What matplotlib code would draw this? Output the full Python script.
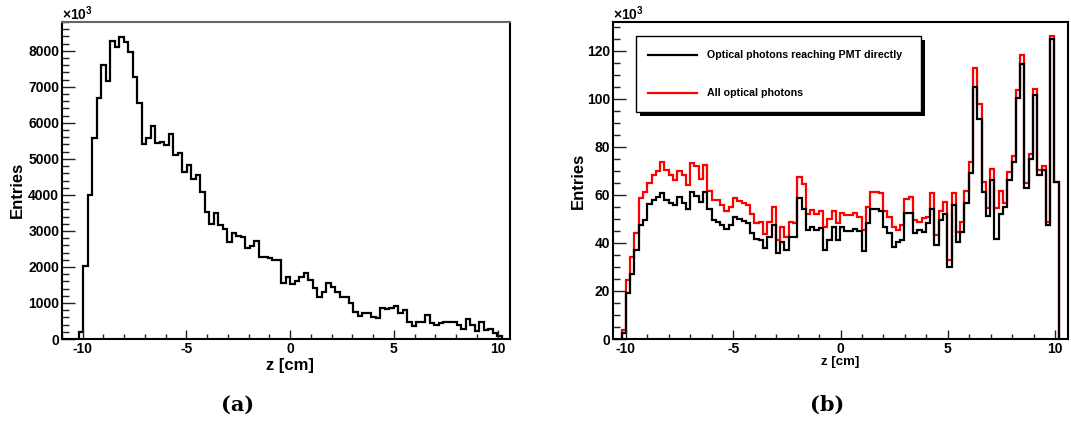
import numpy as np
import matplotlib
matplotlib.use('Agg')
import matplotlib.pyplot as plt
from matplotlib.patches import Rectangle
from matplotlib.ticker import MultipleLocator

plt.rcParams['font.family'] = ['Liberation Sans', 'DejaVu Sans']
plt.rcParams['font.weight'] = 'bold'
plt.rcParams['mathtext.fontset'] = 'custom'
plt.rcParams['mathtext.rm'] = 'Liberation Sans:bold'
plt.rcParams['mathtext.default'] = 'rm'
plt.rcParams['axes.unicode_minus'] = False

# (a) entries per z bin (axis labelled x10^3)
entries_a = [200, 2030, 4010, 5570, 6680, 7600, 7170, 8280, 8110, 8390, 8250, 7970,
             7260, 6540, 5400, 5570, 5910, 5430, 5475, 5380, 5690, 5105, 5170, 4640,
             4830, 4430, 4550, 4090, 3530, 3190, 3490, 3160, 3040, 2680, 2950, 2860,
             2820, 2515, 2590, 2730, 2265, 2285, 2240, 2190, 2190,
             1545, 1730, 1526, 1619, 1730, 1841, 1637, 1406, 1175, 1313, 1545, 1452,
             1313, 1175, 1175, 1008, 758, 638, 730, 730, 620, 573, 851, 823, 851, 925,
             730, 805, 481, 361, 481, 481, 666, 435, 389, 435, 463, 463, 463, 389, 268,
             546, 389, 231, 463, 250, 278, 176, 83]
z_range_a = (-10.2, 10.2)

# (b) entries per z bin, x10^3
all_b = [3.75, 24.6, 34.3, 44, 58.6, 61.4, 64.9, 68.3, 70.1, 73.5, 70.4, 68.3, 66.25,
         70, 68.3, 64.2, 73.3, 71.9, 66.7, 72.6, 61.7, 57.9, 57.9, 55.8, 53.3, 54.9,
         58.9, 57.6, 56.8, 55.8, 52, 48.2, 48.9, 43.6, 48.9, 55.1, 41.25, 46.8, 42.6,
         48.9, 48.2, 67.6, 64.6, 52.1, 53.75, 52.1, 53.5, 46.5, 49.9, 53.5,
         48.2,
         52.6, 51.7, 51.7, 52.4, 51, 45.4, 55.1, 61.1, 61.1, 60.7, 53.1, 51, 46.8, 45.4,
         47.5, 58.3, 59, 49.6, 48.9, 50.3, 51, 60.7, 43.3, 53.1, 57.2, 32.9, 61, 44.7,
         48.9, 61.8, 73.9, 112.8, 97.9, 65.5, 54.4, 70.7, 54.4, 61.8, 56.6, 69.7, 76.3,
         103.75, 118.3, 64.9, 77.1, 104, 70.4, 72.1, 48.9, 126.25, 65.5]
direct_b = [2.4, 19, 27, 37, 47.5, 49.6, 56.25, 57.9, 59, 61, 57.9, 56.8, 55.8, 59,
            56.8, 54, 61.25, 59.6, 57, 61.4, 54, 49.6, 48.9, 47.5, 45.7, 47.5, 51, 49.9,
            49.2, 48.2, 44, 41.5, 41.3, 37.8, 42.6, 47.5, 35.7, 40.5, 37.1, 42.6, 42.4,
            58.9, 54, 45.4, 46.8, 45.4, 46.1, 37.1, 41.3, 46.5,
            41.3,
            46.5, 45.1, 45.1, 45.7, 45.1, 36.8, 48.5, 54.1, 54.1, 53.5, 46.8, 44.1, 38.5,
            40.2, 41.3, 52.4, 52.4, 44.1, 45.4, 44.7, 48.2, 54.1, 39.2, 49.6, 52.1, 29.9,
            55.8, 40.5, 44.7, 56.8, 69, 105.1, 91.5, 61.4, 51.2, 66.2, 41.6, 52.1, 55.1,
            66.2, 73.5, 100.3, 114.6, 62.8, 74.9, 101.7, 68.3, 70.5, 47.5, 124.9, 65.5]
z_range_b = (-10.2, 10.17)

labels_b = ['Optical photons reaching PMT directly', 'All optical photons']

W, H = 1071, 423
fig = plt.figure(figsize=(W / 100, H / 100), dpi=100)
ax1 = fig.add_axes([62 / W, 1 - 339 / H, 448 / W, 317 / H])
ax2 = fig.add_axes([613 / W, 1 - 339 / H, 455 / W, 317 / H])

edges_a = np.linspace(z_range_a[0], z_range_a[1], len(entries_a) + 1)
ax1.stairs(entries_a, edges_a, color='black', lw=1.6, baseline=0)
ax1.set_xlim(-11.0, 10.6)
ax1.set_ylim(0, 8800)
ax1.yaxis.set_major_locator(MultipleLocator(1000))
ax1.yaxis.set_minor_locator(MultipleLocator(200))

edges_b = np.linspace(z_range_b[0], z_range_b[1], len(all_b) + 1)
ax2.stairs(all_b, edges_b, color='#ff0000', lw=1.6, baseline=0)
ax2.stairs(direct_b, edges_b, color='black', lw=1.6, baseline=0)
ax2.set_xlim(-10.6, 10.6)
ax2.set_ylim(0, 132)
ax2.yaxis.set_major_locator(MultipleLocator(20))
ax2.yaxis.set_minor_locator(MultipleLocator(5))

for ax in (ax1, ax2):
    ax.xaxis.set_major_locator(MultipleLocator(5))
    ax.xaxis.set_minor_locator(MultipleLocator(1))
    ax.tick_params(which='both', direction='in', top=False, right=False, width=1,
                   labelsize=10, color='#222222')
    ax.tick_params(axis='y', which='major', length=9.5, pad=2)
    ax.tick_params(axis='y', which='minor', length=4.7)
    ax.tick_params(axis='x', which='major', length=6.5, pad=2.5)
    ax.tick_params(axis='x', which='minor', length=3.3)
    for s in ax.spines.values():
        s.set_linewidth(1.5)
    for lab in ax.get_xticklabels() + ax.get_yticklabels():
        lab.set_fontweight('bold')
ax1.spines['top'].set_color('#666666')

# x10^3 multipliers
fig.text(62 / W, 1 - 20 / H, r'$\times10^{3}$', fontsize=10, ha='left', va='baseline')
fig.text(613 / W, 1 - 20 / H, r'$\times10^{3}$', fontsize=10, ha='left', va='baseline')

# axis titles
fig.text(17 / W, 1 - 190 / H, 'Entries', rotation=90, fontsize=12, ha='center', va='center')
fig.text(290 / W, 1 - 365 / H, 'z [cm]', fontsize=12, ha='center', va='center')
fig.text(578 / W, 1 - 181 / H, 'Entries', rotation=90, fontsize=12, ha='center', va='center')
fig.text(840 / W, 1 - 362 / H, 'z [cm]', fontsize=9.5, ha='center', va='center')

# legend box with shadow, ROOT style
ax2.add_patch(Rectangle((0.0512 + 0.009, 0.716 - 0.013), 0.626, 0.24, transform=ax2.transAxes,
                        facecolor='black', edgecolor='black', lw=0, zorder=5))
ax2.add_patch(Rectangle((0.0512, 0.716), 0.626, 0.24, transform=ax2.transAxes,
                        facecolor='white', edgecolor='black', lw=1.0, zorder=6))
ax2.plot([0.077, 0.185], [0.896, 0.896], color='black', lw=1.6, transform=ax2.transAxes, zorder=7)
ax2.plot([0.077, 0.185], [0.777, 0.777], color='#ff0000', lw=1.6, transform=ax2.transAxes, zorder=7)
ax2.text(0.207, 0.896, labels_b[0], fontsize=7.7, va='center', transform=ax2.transAxes, zorder=7)
ax2.text(0.207, 0.777, labels_b[1], fontsize=7.7, va='center', transform=ax2.transAxes, zorder=7)

# sub-figure captions
fig.text(238 / W, 1 - 405 / H, '(a)', family=['DejaVu Serif'], fontweight='bold', fontsize=15,
         ha='center', va='center')
fig.text(827 / W, 1 - 405 / H, '(b)', family=['DejaVu Serif'], fontweight='bold', fontsize=15,
         ha='center', va='center')

fig.savefig('out.png', dpi=100)
